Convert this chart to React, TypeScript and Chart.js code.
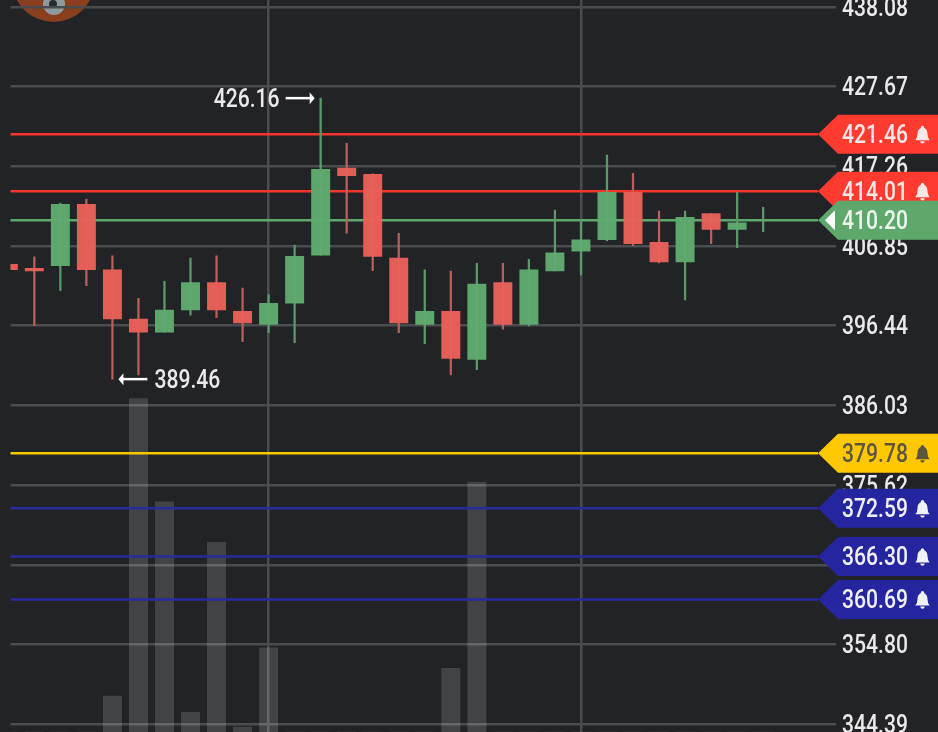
import React, { useEffect, useRef } from "react";
import { Chart, registerables } from "chart.js";

Chart.register(...registerables);

// Price data
const opens = [404.46, 403.94, 404.28, 412.30, 403.75, 397.31, 395.58, 398.49, 402.06, 398.32, 396.62, 399.37, 405.64, 417.04, 416.22, 405.28, 396.62, 398.32, 392.05, 402.06, 396.62, 403.58, 406.16, 407.67, 413.86, 407.33, 404.76, 411.07, 409.03, 410.15];
const closes = [403.75, 403.58, 412.30, 403.75, 397.31, 395.58, 398.49, 402.06, 398.49, 396.79, 399.37, 405.50, 416.87, 416.03, 405.50, 396.79, 398.32, 392.18, 401.89, 396.62, 403.75, 405.97, 407.67, 413.86, 407.15, 404.76, 410.60, 409.03, 409.89, 410.25];
const highs = [404.46, 405.45, 412.43, 412.99, 405.58, 400.02, 402.24, 405.28, 405.58, 401.36, 400.49, 406.98, 426.16, 420.26, 416.29, 408.51, 403.75, 403.58, 404.59, 404.59, 405.11, 411.55, 410.02, 418.74, 416.35, 411.42, 411.42, 411.07, 413.86, 411.91];
const lows = [403.75, 396.44, 401.01, 401.66, 389.46, 390.0, 395.58, 397.8, 397.48, 394.35, 395.53, 394.22, 405.64, 408.51, 403.62, 395.53, 394.09, 390.0, 390.69, 395.97, 396.4, 403.58, 403.06, 407.5, 406.89, 404.63, 399.8, 407.15, 406.63, 408.72];
const volumes = [0, 0, 0, 0, 10.8, 100.2, 69.2, 5.9, 57.0, 1.5, 25.3, 0, 0, 0, 0, 0, 0, 19.1, 75.1, 0, 0, 0, 0, 0, 0, 0, 0, 0, 0, 0];

// Axis labels
const tickValues = [438.08, 427.67, 417.26, 406.85, 396.44, 386.03, 375.62, 365.21, 354.8, 344.39];
const verticalGridIndexes = [10, 22];

// Alert lines, drawn in this order
const alertValues = [360.69, 366.3, 372.59, 379.78, 414.01, 421.46, 410.2];
const alertLineColors = ["#2a2aa0", "#2a2aa0", "#2a2aa0", "#f5c800", "#f5352b", "#f5352b", "#5fa86c"];
const alertTagColors = ["#25259f", "#25259f", "#25259f", "#ffc800", "#ff3b30", "#ff3b30", "#5fa86c"];
const alertTextColors = ["#f0f0f5", "#f0f0f5", "#f0f0f5", "#5c5540", "#f5e8e6", "#f5e8e6", "#eef5ef"];
const alertHasBell = [true, true, true, true, true, true, false];

const highIndex = 12;
const lowIndex = 4;

const RED = "rgba(232,96,89,0.97)";
const GREEN = "rgba(95,170,110,0.97)";
const RED_WICK = "#b9605a";
const GREEN_WICK = "#5b9a68";
const X_ORIGIN = 8.3;
const X_STEP = 26.03;
const xAt = (px: number) => (px - X_ORIGIN) / X_STEP;
const FONT = "500 25px Roboto";
const SQUEEZE = 0.845;

function drawText(ctx: any, text: string, x: number, y: number, color: string) {
  ctx.save();
  ctx.translate(x, y);
  ctx.scale(SQUEEZE, 1);
  ctx.font = FONT;
  ctx.fillStyle = color;
  ctx.textAlign = "left";
  ctx.textBaseline = "middle";
  ctx.fillText(text, 0, 2.5);
  ctx.restore();
}

function drawBell(ctx: any, cx: number, cy: number, color: string) {
  ctx.save();
  ctx.translate(cx, cy);
  ctx.scale(1.1, 1.1);
  ctx.fillStyle = color;
  ctx.beginPath();
  ctx.moveTo(-6.5, 5);
  ctx.quadraticCurveTo(-4.5, 3, -4.5, -1);
  ctx.bezierCurveTo(-4.5, -8, 4.5, -8, 4.5, -1);
  ctx.quadraticCurveTo(4.5, 3, 6.5, 5);
  ctx.closePath();
  ctx.fill();
  ctx.beginPath();
  ctx.arc(0, -6.5, 1.5, 0, Math.PI * 2);
  ctx.fill();
  ctx.beginPath();
  ctx.arc(0, 6, 2, 0, Math.PI);
  ctx.fill();
  ctx.restore();
}

function drawArrow(ctx: any, x1: number, x2: number, y: number) {
  const dir = x2 > x1 ? 1 : -1;
  ctx.save();
  ctx.strokeStyle = "#ffffff";
  ctx.fillStyle = "#ffffff";
  ctx.lineWidth = 2.5;
  ctx.beginPath();
  ctx.moveTo(x1, y);
  ctx.lineTo(x2 - dir * 4, y);
  ctx.stroke();
  ctx.beginPath();
  ctx.moveTo(x2, y);
  ctx.lineTo(x2 - dir * 5, y - 6);
  ctx.lineTo(x2 - dir * 5, y + 6);
  ctx.closePath();
  ctx.fill();
  ctx.restore();
}

const decorPlugin = {
  id: "decor",
  beforeDraw(chart: any) {
    const { ctx, width, height } = chart;
    ctx.save();
    ctx.fillStyle = "#222327";
    ctx.fillRect(0, 0, width, height);
    ctx.fillStyle = "#8a3f1f";
    ctx.beginPath();
    ctx.arc(53.5, -19.3, 41.3, 0, Math.PI * 2);
    ctx.fill();
    ctx.fillStyle = "#8d9aa0";
    ctx.beginPath();
    ctx.arc(54, 4, 11, 0, Math.PI * 2);
    ctx.fill();
    ctx.fillStyle = "#2a2b2e";
    ctx.beginPath();
    ctx.arc(53, 4, 4, 0, Math.PI * 2);
    ctx.fill();
    ctx.restore();
  },
  afterDraw(chart: any) {
    const { ctx } = chart;
    const y = chart.scales.y;
    const x = chart.scales.x;

    y.ticks.forEach((t: any) => {
      drawText(ctx, t.value.toFixed(2), 842, y.getPixelForValue(t.value), "#e9e9ea");
    });

    const hy = y.getPixelForValue(highs[highIndex]);
    const hx = x.getPixelForValue(highIndex);
    drawArrow(ctx, hx - 35, hx - 6, hy);
    drawText(ctx, highs[highIndex].toFixed(2), hx - 107, hy, "#e9e9ea");

    const ly = y.getPixelForValue(lows[lowIndex]);
    const lx = x.getPixelForValue(lowIndex);
    drawArrow(ctx, lx + 35, lx + 6, ly);
    drawText(ctx, lows[lowIndex].toFixed(2), lx + 42, ly, "#e9e9ea");

    alertValues.forEach((v, i) => {
      const py = y.getPixelForValue(v);
      ctx.save();
      ctx.fillStyle = alertTagColors[i];
      ctx.beginPath();
      ctx.moveTo(818, py);
      ctx.lineTo(838, py - 19.5);
      ctx.lineTo(938, py - 19.5);
      ctx.lineTo(938, py + 19.5);
      ctx.lineTo(838, py + 19.5);
      ctx.closePath();
      ctx.fill();
      if (!alertHasBell[i]) {
        ctx.fillStyle = "#ffffff";
        ctx.beginPath();
        ctx.moveTo(825, py);
        ctx.lineTo(835, py - 10);
        ctx.lineTo(835, py + 10);
        ctx.closePath();
        ctx.fill();
      }
      ctx.restore();
      drawText(ctx, v.toFixed(2), 842, py, alertTextColors[i]);
      if (alertHasBell[i]) drawBell(ctx, 922.5, py + 0.5, alertTextColors[i]);
    });
  },
};

export default function App() {
  const ref = useRef<HTMLCanvasElement>(null);

  useEffect(() => {
    document.body.style.margin = "0";
    document.body.style.background = "#222327";
    const isUp = closes.map((c, i) => c >= opens[i]);
    const chart = new Chart(ref.current as any, {
      type: "bar",
      data: {
        datasets: [
          {
            type: "bar",
            label: "Volume",
            yAxisID: "vol",
            order: 3,
            grouped: false,
            barThickness: 18.3,
            backgroundColor: "rgba(255,255,255,0.15)",
            data: volumes.map((v, i) => ({ x: i, y: v })),
          },
          ...alertValues.map((v, i) => ({
            type: "line",
            label: v.toFixed(2),
            order: 2,
            borderColor: alertLineColors[i],
            borderWidth: 2.5,
            pointRadius: 0,
            data: [
              { x: xAt(0), y: v },
              { x: xAt(818), y: v },
            ],
          })),
          {
            type: "bar",
            label: "Range",
            order: 1,
            grouped: false,
            barThickness: 1.6,
            backgroundColor: isUp.map((u) => (u ? GREEN_WICK : RED_WICK)),
            data: highs.map((h, i) => ({ x: i, y: [lows[i], h] })),
          },
          {
            type: "bar",
            label: "Body",
            order: 0,
            grouped: false,
            barThickness: 18.3,
            backgroundColor: isUp.map((u) => (u ? GREEN : RED)),
            data: opens.map((o, i) => ({ x: i, y: [o, closes[i]] })),
          },
        ],
      } as any,
      options: {
        responsive: false,
        animation: false,
        layout: { padding: { left: 10.5, right: 0, top: 0, bottom: 0 } },
        plugins: { legend: { display: false }, tooltip: { enabled: false } },
        scales: {
          x: {
            type: "linear",
            offset: false,
            min: xAt(10.5),
            max: xAt(836),
            afterBuildTicks: (s: any) => {
              s.ticks = verticalGridIndexes.map((value) => ({ value }));
            },
            afterFit: (s: any) => {
              s.height = 0;
            },
            ticks: { display: false },
            border: { display: false },
            grid: { offset: false, color: "#4b4c4f", lineWidth: 2.5, drawTicks: false },
          },
          y: {
            position: "right",
            min: 343.37,
            max: 438.98,
            afterBuildTicks: (s: any) => {
              s.ticks = tickValues.map((value) => ({ value }));
            },
            afterFit: (s: any) => {
              s.width = 102;
            },
            ticks: { display: false },
            border: { display: false },
            grid: { color: "#4b4c4f", lineWidth: 2.5, drawTicks: false },
          },
          vol: { display: false, min: 0, max: 220 },
        },
      } as any,
      plugins: [decorPlugin],
    });
    return () => chart.destroy();
  }, []);

  return <canvas ref={ref} width={938} height={732} style={{ display: "block" }} />;
}
